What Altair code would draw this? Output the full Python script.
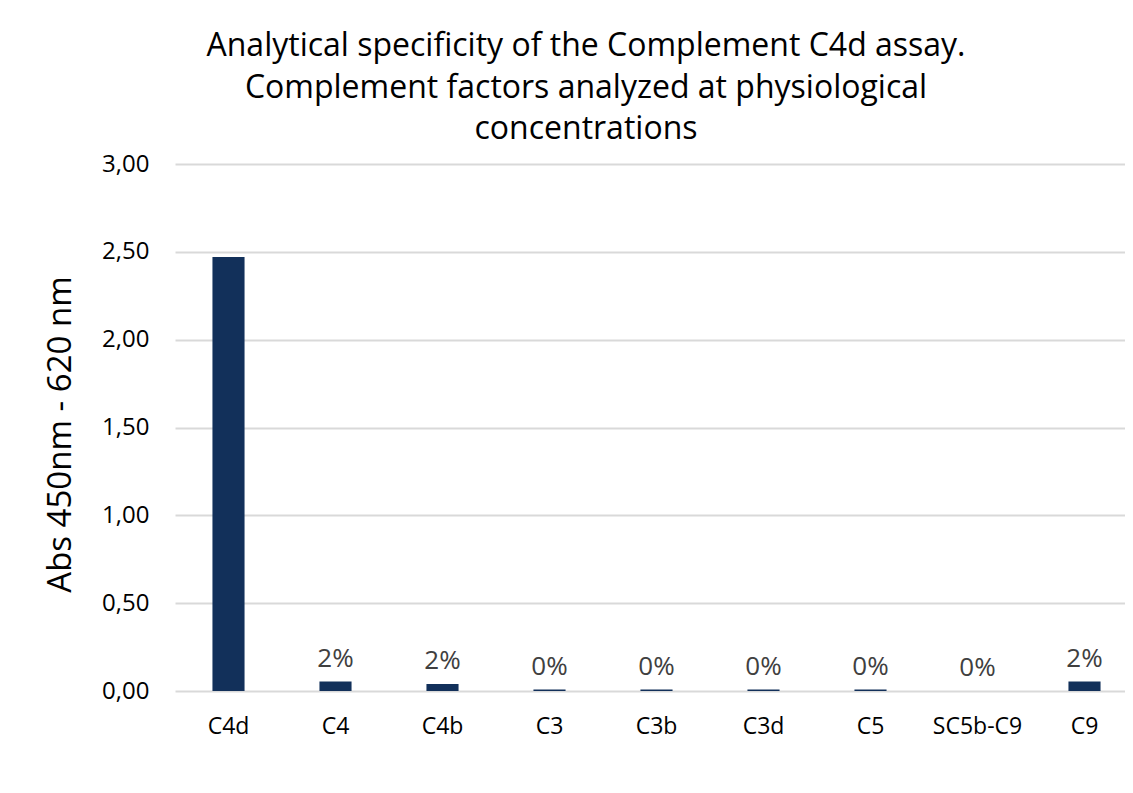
import altair as alt
import pandas as pd

categories = ["C4d", "C4", "C4b", "C3", "C3b", "C3d", "C5", "SC5b-C9", "C9"]
values = [2.47, 0.054, 0.04, 0.008, 0.008, 0.008, 0.008, 0.0, 0.054]
labels = ["", "2%", "2%", "0%", "0%", "0%", "0%", "0%", "2%"]
y_ticks = [0, 0.5, 1.0, 1.5, 2.0, 2.5, 3.0]

df = pd.DataFrame({"cat": categories, "val": values, "lab": labels})

FONT = "Open Sans"
BAR = "#12305A"
TXT = "#404040"

x = alt.X("cat:N", sort=categories, title=None,
          scale=alt.Scale(paddingInner=0.7, paddingOuter=0.35, range=[0, 963]),
          axis=alt.Axis(labelAngle=0, labelFontSize=23, labelColor="#000000",
                        labelFont=FONT, ticks=False, domain=False, grid=False,
                        labelPadding=24))
y = alt.Y("val:Q", scale=alt.Scale(domain=[0, 3]),
          axis=alt.Axis(values=y_ticks, title="Abs 450nm - 620 nm",
                        labelExpr="replace(format(datum.value, '.2f'), '.', ',')",
                        labelFontSize=24, labelColor="#000000", labelFont=FONT,
                        labelPadding=26, ticks=False, domain=False,
                        gridColor="#d9d9d9", gridWidth=2,
                        titleFontSize=33, titleFont=FONT, titleFontWeight="normal",
                        titleColor="#000000", titleAngle=-90, titleX=-115, titleY=270,
                        titleAlign="center", titleBaseline="middle"))

bars = alt.Chart(df).mark_bar(color=BAR).encode(x=x, y=y)
text = alt.Chart(df).mark_text(fontSize=26, color=TXT, font=FONT, baseline="alphabetic", dy=-15).encode(
    x=alt.X("cat:N", sort=categories), y="val:Q", text="lab:N")

chart = alt.layer(bars, text).properties(
    width=950, height=527,
    autosize=alt.AutoSizeParams(type="none"),
    padding={"left": 167, "top": 156, "right": 0, "bottom": 60},
    title=alt.TitleParams(
        text=["Analytical specificity of the Complement C4d assay.",
              "Complement factors analyzed at physiological",
              "concentrations"],
        fontSize=32, font=FONT, fontWeight="normal", color="#000000",
        lineHeight=41.5, anchor="middle", dx=-64, offset=6),
).configure(background="white", view=alt.ViewConfig(stroke=None))

chart.save("out.html", embed_options={"renderer": "svg", "actions": False})
